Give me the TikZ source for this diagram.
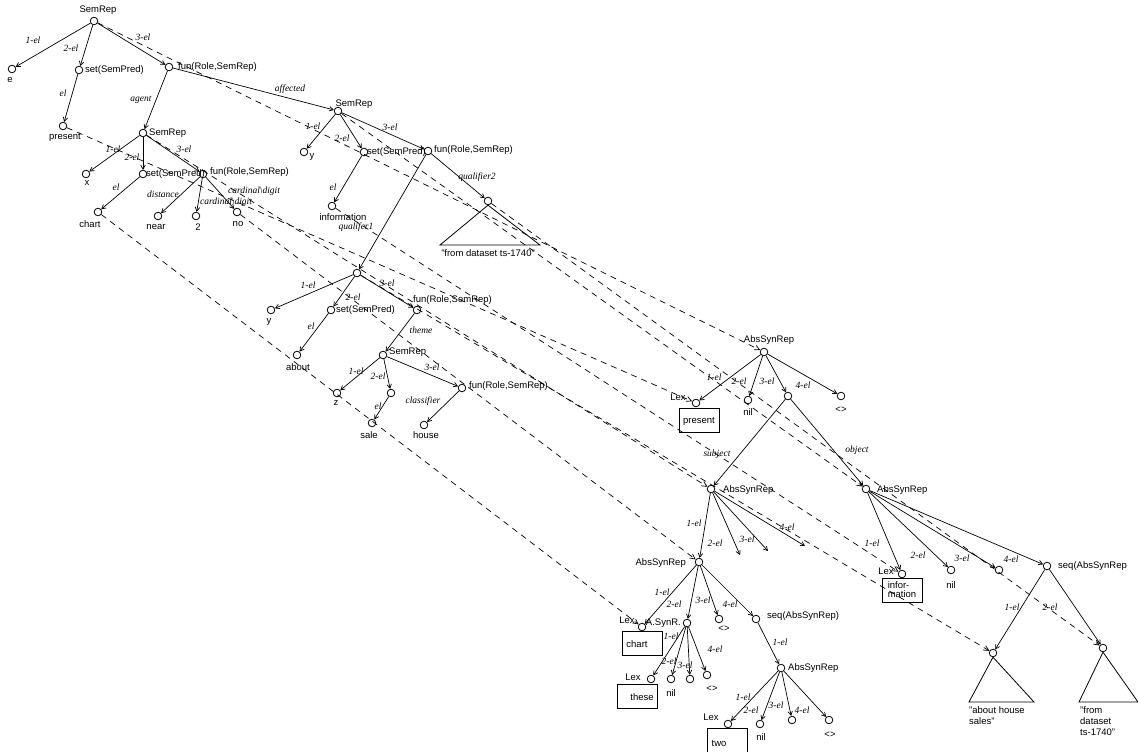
\documentclass[tikz,border=0pt]{standalone}
\usepackage{fontspec}
\setmainfont{Liberation Sans}
\newfontfamily\lblfont{Liberation Serif}
\usetikzlibrary{arrows.meta}
\begin{document}
\begin{tikzpicture}[x=1pt,y=-1pt,
 cn/.style={circle,draw,inner sep=0pt,minimum size=7.6pt,line width=0.8pt},
 tx/.style={font=\fontsize{9.5}{11}\selectfont,inner sep=0pt},
 txw/.style={tx,anchor=west},
 txe/.style={tx,anchor=east},
 el/.style={font=\lblfont\itshape\fontsize{9.5}{11}\selectfont,inner sep=0pt},
 ed/.style={line width=0.7pt,-{Straight Barb[length=4pt,width=4.5pt]}},
 cor/.style={line width=0.7pt,dash pattern=on 6pt off 5pt,-{Straight Barb[length=5pt,width=5pt]}},
 bx/.style={draw,line width=0.8pt,inner sep=0pt,minimum width=40pt,minimum height=24pt},
 tri/.style={line width=0.8pt}
]
\useasboundingbox (0,0) rectangle (1138,752);
% ---------- semantic tree ----------
\node[cn] (r0) at (94,21) {};   \node[tx] (lr0) at (98,10) {SemRep};
\node[cn] (e1) at (12,69) {};   \node[tx] (le1) at (10,80) {e};
\node[cn] (s1) at (79,70) {};   \node[txw] (ls1) at (85,70) {set(SemPred)};
\node[cn] (f1) at (169,67) {};  \node[txw] (lf1) at (178,67) {fun(Role,SemRep)};
\node[cn] (pr) at (63,126) {};  \node[tx] (lpr) at (65,137) {present};
\node[cn] (a0) at (143,133) {}; \node[txw] (la0) at (149,133) {SemRep};
\node[cn] (ax) at (86,174) {};  \node[tx] (lax) at (87,183) {x};
\node[cn] (as) at (143,174) {}; \node[txw] (las) at (146,174) {set(SemPred)};
\node[cn] (af) at (203,174) {}; \node[txw] (laf) at (210,172) {fun(Role,SemRep)};
\node[cn] (ch) at (98,212) {};  \node[tx] (lch) at (90,224) {chart};
\node[cn] (nr) at (158,216) {}; \node[tx] (lnr) at (156,227) {near};
\node[cn] (tw) at (196,216) {}; \node[tx] (ltw) at (198,227) {2};
\node[cn] (no) at (237,212) {}; \node[tx] (lno) at (238,224) {no};
\node[cn] (b0) at (338,111) {}; \node[tx] (lb0) at (354,104) {SemRep};
\node[cn] (by) at (304,152) {}; \node[tx] (lby) at (312,157) {y};
\node[cn] (bs) at (364,152) {}; \node[txw] (lbs) at (367,152) {set(SemPred)};
\node[cn] (bf) at (428,151) {}; \node[txw] (lbf) at (434,150) {fun(Role,SemRep)};
\node[cn] (inf) at (332,206) {};\node[tx] (linf) at (343,217) {information};
\node[cn] (q2) at (488,201) {};
\coordinate (q2l) at (440,245); \coordinate (q2r) at (540,245);
\node[tx] (lq2) at (488,253) {"from dataset ts-1740"};
\node[cn] (q1) at (357,273) {};
\node[cn] (qy) at (271,310) {}; \node[tx] (lqy) at (269,322) {y};
\node[cn] (qs) at (331,310) {}; \node[txw] (lqs) at (336,310) {set(SemPred)};
\node[cn] (qf) at (417,310) {}; \node[txw] (lqf) at (413,300) {fun(Role,SemRep)};
\node[cn] (ab) at (297,355) {}; \node[tx] (lab) at (298,367) {about};
\node[cn] (t0) at (383,355) {}; \node[txw] (lt0) at (389,352) {SemRep};
\node[cn] (tz) at (337,393) {}; \node[tx] (ltz) at (336,403) {z};
\node[cn] (ts) at (391,393) {};
\node[cn] (tf) at (462,388) {}; \node[txw] (ltf) at (469,386) {fun(Role,SemRep)};
\node[cn] (sa) at (372,423) {}; \node[tx] (lsa) at (369,435) {sale};
\node[cn] (ho) at (424,425) {}; \node[tx] (lho) at (426,435) {house};
% edges
\draw[ed] (r0) -- (e1); \draw[ed] (r0) -- (s1); \draw[ed] (r0) -- (f1);
\draw[ed] (s1) -- (pr); \draw[ed] (f1) -- (a0); \draw[ed] (f1) -- (b0);
\draw[ed] (a0) -- (ax); \draw[ed] (a0) -- (as); \draw[ed] (a0) -- (af);
\draw[ed] (as) -- (ch); \draw[ed] (af) -- (nr); \draw[ed] (af) -- (tw); \draw[ed] (af) -- (no);
\draw[ed] (b0) -- (by); \draw[ed] (b0) -- (bs); \draw[ed] (b0) -- (bf);
\draw[ed] (bs) -- (inf); \draw[ed] (bf) -- (q2); \draw[ed] (bf) -- (q1);
\draw[tri] (q2.south) -- (q2l) -- (q2r) -- cycle;
\draw[ed] (q1) -- (qy); \draw[ed] (q1) -- (qs); \draw[ed] (q1) -- (qf);
\draw[ed] (qs) -- (ab); \draw[ed] (qf) -- (t0);
\draw[ed] (t0) -- (tz); \draw[ed] (t0) -- (ts); \draw[ed] (t0) -- (tf);
\draw[ed] (ts) -- (sa); \draw[ed] (tf) -- (ho);
% edge labels
\node[el] (m1) at (33,40) {1-el}; \node[el] (m2) at (71,48) {2-el}; \node[el] (m3) at (143,37) {3-el};
\node[el] (m4) at (63,93) {el}; \node[el] (m5) at (141,100) {agent}; \node[el] (m6) at (290,89) {affected};
\node[el] (m7) at (113,149) {1-el}; \node[el] (m8) at (132,157) {2-el}; \node[el] (m9) at (184,149) {3-el};
\node[el] (m10) at (116,187) {el}; \node[el] (m11) at (163,194) {distance};
\node[el] (m12) at (254,191) {cardinal\textbackslash digit}; \node[el] (m13) at (226,202) {cardinal\textbackslash digit};
\node[el] (m14) at (313,126) {1-el}; \node[el] (m15) at (342,138) {2-el}; \node[el] (m16) at (390,127) {3-el};
\node[el] (m17) at (333,187) {el}; \node[el] (m18) at (477,177) {qualifier2}; \node[el] (m19) at (356,227) {qualifer1};
\node[el] (m20) at (308,285) {1-el}; \node[el] (m21) at (353,297) {2-el}; \node[el] (m22) at (387,283) {3-el};
\node[el] (m23) at (311,326) {el}; \node[el] (m24) at (421,330) {theme};
\node[el] (m25) at (356,371) {1-el}; \node[el] (m26) at (378,376) {2-el}; \node[el] (m27) at (432,367) {3-el};
\node[el] (m28) at (378,406) {el}; \node[el] (m29) at (423,401) {classifier};
% ---------- syntactic tree ----------
\node[cn] (A0) at (764,352) {}; \node[tx] (lA0) at (769,340) {AbsSynRep};
\node[bx] (bLp) at (699,420) {}; \node[tx] (tLp) at (699,421) {present};
\node[cn,fill=white] (Lp) at (696,403) {}; \node[tx] (lLp) at (678,397) {Lex};
\node[cn] (An) at (748,400) {}; \node[tx] (lAn) at (748,412) {nil};
\node[cn] (A3) at (788,396) {};
\node[cn] (Ae) at (841,396) {}; \node[tx] (lAe) at (841,410) {<>};
\node[cn] (S0) at (711,489) {}; \node[txw] (lS0) at (723,490) {AbsSynRep};
\coordinate (c2) at (740,555); \coordinate (c3) at (768,551); \coordinate (c4) at (805,546);
\node[cn] (S1) at (699,562) {}; \node[txe] (lS1) at (686,563) {AbsSynRep};
\node[bx] (bLc) at (642.5,643.5) {}; \node[tx] (tLc) at (637,644) {chart};
\node[cn,fill=white] (Lc) at (642,627) {}; \node[tx] (lLc) at (627,620) {Lex};
\node[cn] (As) at (687,623) {}; \node[txe] (lAs) at (681,623) {A.SynR.};
\node[cn] (Se) at (719,619) {}; \node[tx] (lSe) at (724,629) {<>};
\node[cn] (Sq) at (756,619) {}; \node[txw] (lSq) at (767,616) {seq(AbsSynRep)};
\node[bx] (bLt) at (637.5,696) {}; \node[tx] (tLt) at (642,697) {these};
\node[cn,fill=white] (Lt) at (651,679) {}; \node[tx] (lLt) at (633,677) {Lex};
\node[cn] (Xn) at (671,679) {}; \node[tx] (lXn) at (671,693) {nil};
\node[cn] (X3) at (690,679) {};
\node[cn] (Xe) at (707,675) {}; \node[tx] (lXe) at (712,689) {<>};
\node[cn] (T0) at (781,668) {}; \node[txw] (lT0) at (788,668) {AbsSynRep};
\node[bx] (bLw) at (727.5,740) {}; \node[tx] (tLw) at (719,743) {two};
\node[cn,fill=white] (Lw) at (728,724) {}; \node[tx] (lLw) at (711,717) {Lex};
\node[cn] (Tn) at (760,724) {}; \node[tx] (lTn) at (761,737) {nil};
\node[cn] (T3) at (792,720) {};
\node[cn] (Te) at (829,720) {}; \node[tx] (lTe) at (830,735) {<>};
\node[cn] (O0) at (866,489) {}; \node[txw] (lO0) at (877,490) {AbsSynRep};
\node[bx] (bLi) at (902,590) {}; \node[tx,align=left] (tLi) at (902,590) {infor-\\[-2pt]mation};
\node[cn,fill=white] (Li) at (902,574) {}; \node[tx] (lLi) at (886,571) {Lex};
\node[cn] (On) at (951,570) {}; \node[tx] (lOn) at (951,585) {nil};
\node[cn] (O3) at (999,570) {};
\node[cn] (Oq) at (1047,566) {}; \node[txw] (lOq) at (1058,566) {seq(AbsSynRep};
\node[cn] (g1) at (993,653) {}; \coordinate (g1l) at (969,702); \coordinate (g1r) at (1034,702);
\node[tx,anchor=north west,align=left] (lg1) at (969,706) {"about house\\sales"};
\node[cn] (g2) at (1103,648) {}; \coordinate (g2l) at (1079,702); \coordinate (g2r) at (1138,702);
\node[tx,anchor=north west,align=left] (lg2) at (1080,706) {"from\\dataset\\ts-1740"};
% edges
\draw[ed] (A0) -- (Lp); \draw[ed] (A0) -- (An); \draw[ed] (A0) -- (A3); \draw[ed] (A0) -- (Ae);
\draw[ed] (A3) -- (S0); \draw[ed] (A3) -- (O0);
\draw[ed] (S0) -- (S1); \draw[ed] (S0) -- (c2); \draw[ed] (S0) -- (c3); \draw[ed] (S0) -- (c4);
\draw[ed] (S1) -- (Lc); \draw[ed] (S1) -- (As); \draw[ed] (S1) -- (Se); \draw[ed] (S1) -- (Sq);
\draw[ed] (As) -- (Lt); \draw[ed] (As) -- (Xn); \draw[ed] (As) -- (X3); \draw[ed] (As) -- (Xe);
\draw[ed] (Sq) -- (T0);
\draw[ed] (T0) -- (Lw); \draw[ed] (T0) -- (Tn); \draw[ed] (T0) -- (T3); \draw[ed] (T0) -- (Te);
\draw[ed] (O0) -- (Li); \draw[ed] (O0) -- (On); \draw[ed] (O0) -- (O3); \draw[ed] (O0) -- (Oq);
\draw[ed] (Oq) -- (g1); \draw[ed] (Oq) -- (g2);
\draw[tri] (g1.south) -- (g1l) -- (g1r) -- cycle;
\draw[tri] (g2.south) -- (g2l) -- (g2r) -- cycle;
% edge labels
\node[el] (n1) at (714,377) {1-el}; \node[el] (n2) at (739,381) {2-el}; \node[el] (n3) at (767,381) {3-el}; \node[el] (n4) at (803,385) {4-el};
\node[el] (n5) at (717,454) {subject}; \node[el] (n6) at (857,450) {object};
\node[el] (n7) at (694,523) {1-el}; \node[el] (n8) at (715,543) {2-el}; \node[el] (n9) at (747,539) {3-el}; \node[el] (n10) at (787,527) {4-el};
\node[el] (n11) at (662,592) {1-el}; \node[el] (n12) at (674,604) {2-el}; \node[el] (n13) at (703,600) {3-el}; \node[el] (n14) at (730,604) {4-el};
\node[el] (n15) at (671,636) {1-el}; \node[el] (n16) at (669,661) {2-el}; \node[el] (n17) at (685,665) {3-el}; \node[el] (n18) at (715,649) {4-el};
\node[el] (n19) at (780,642) {1-el};
\node[el] (n20) at (743,697) {1-el}; \node[el] (n21) at (751,710) {2-el}; \node[el] (n22) at (776,705) {3-el}; \node[el] (n23) at (802,710) {4-el};
\node[el] (n24) at (872,543) {1-el}; \node[el] (n25) at (918,555) {2-el}; \node[el] (n26) at (962,558) {3-el}; \node[el] (n27) at (1011,559) {4-el};
\node[el] (n28) at (1012,607) {1-el}; \node[el] (n29) at (1050,607) {2-el};
% ---------- correspondences ----------
\draw[cor] (r0) -- (A0);
\draw[cor] (pr) -- (Lp);
\draw[cor] (a0) -- (S0);
\draw[cor] (ch) -- (Lc);
\draw[cor] (no) -- (S1);
\draw[cor] (inf) -- (Li);
\draw[cor] (b0) -- (O0);
\draw[cor] (q1) -- (g1);
\draw[cor] (q2) -- (g2);
\end{tikzpicture}
\end{document}
